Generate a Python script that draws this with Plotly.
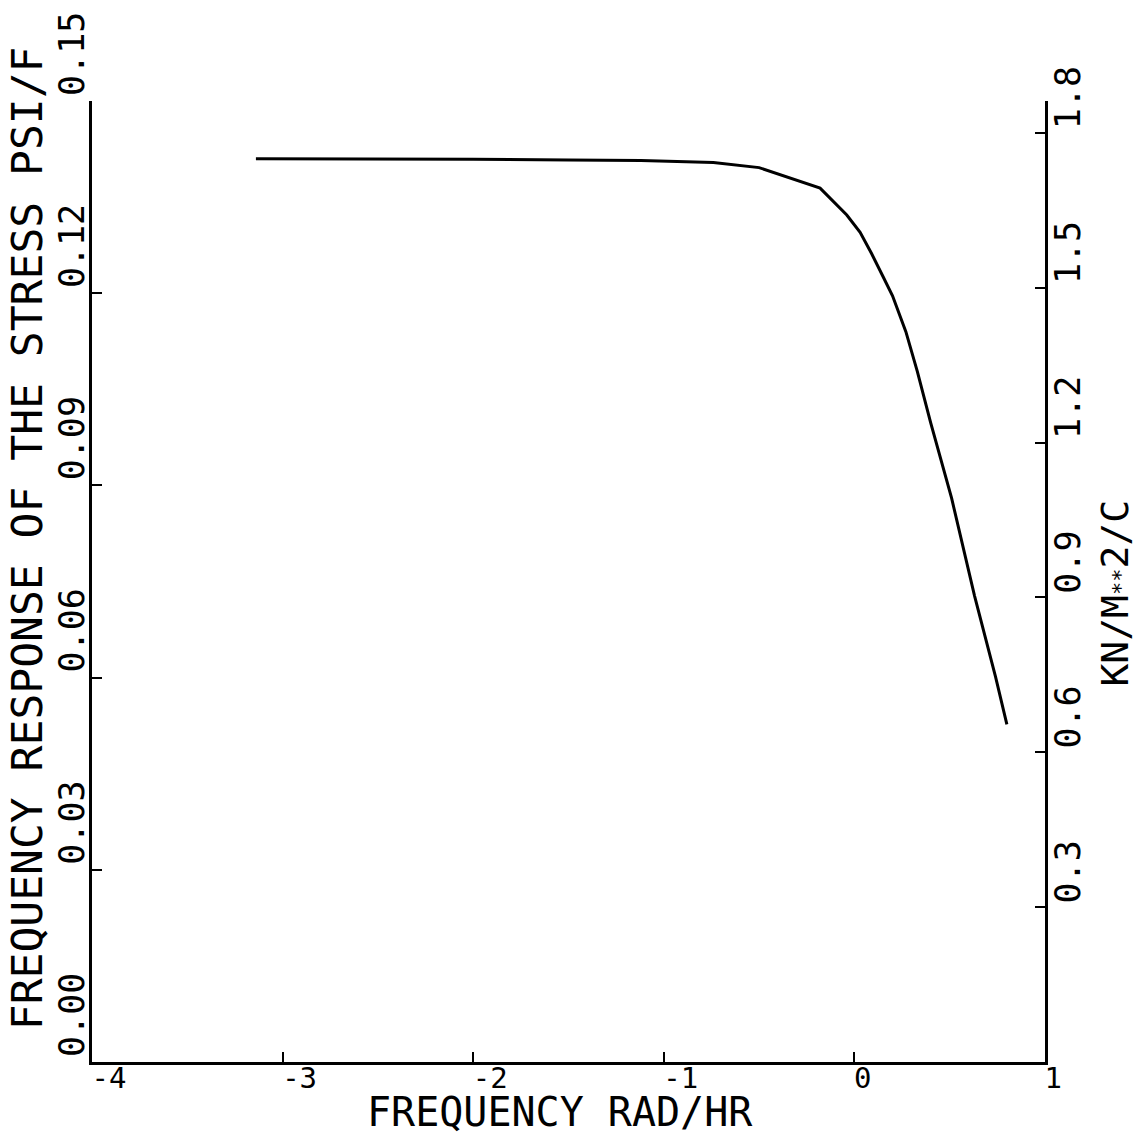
import plotly.graph_objects as go

# Data (x: log10 frequency, y: stress response PSI/F)
freq = [-3.14, -2.5, -2.0, -1.5, -1.12, -0.74, -0.50, -0.18, -0.04, 0.03, 0.09, 0.15, 0.20, 0.27, 0.33, 0.40, 0.51, 0.63, 0.74, 0.80]
resp = [0.1410, 0.1410, 0.1409, 0.1408, 0.1407, 0.1404, 0.1396, 0.1364, 0.1322, 0.1295, 0.1262, 0.1226, 0.1196, 0.1140, 0.1078, 0.0998, 0.0880, 0.0728, 0.0602, 0.0527]

x_ticks = [-4, -3, -2, -1, 0, 1]
x_ticktext = ["-4", "-3", "-2", "-1", "0\u00a0", "1\u00a0"]
y_ticks = [0.00, 0.03, 0.06, 0.09, 0.12, 0.15]
y_ticktext = ["0.00", "0.03", "0.06", "0.09", "0.12", "0.15"]
y2_ticks = [0.3, 0.6, 0.9, 1.2, 1.5, 1.8]
y2_ticktext = ["0.3", "0.6", "0.9", "1.2", "1.5", "1.8"]

PSIF_TO_KNM2C = 6.894757 * 1.8

FONT = "DejaVu Sans Mono"

fig = go.Figure()
fig.add_trace(go.Scatter(x=freq, y=resp, mode="lines",
                         line=dict(color="black", width=3), showlegend=False,
                         hoverinfo="skip"))
fig.add_trace(go.Scatter(x=freq, y=[v * PSIF_TO_KNM2C for v in resp], mode="lines",
                         yaxis="y2", opacity=0, line=dict(color="black", width=1),
                         showlegend=False, hoverinfo="skip"))

fig.update_layout(
    width=1139, height=1135,
    margin=dict(l=92, r=94, t=95, b=73),
    paper_bgcolor="white", plot_bgcolor="white",
    font=dict(family=FONT, color="black"),
    xaxis=dict(range=[-4, 1], tickvals=x_ticks, ticktext=x_ticktext,
               showgrid=False, zeroline=False, showline=True, linecolor="black", linewidth=3,
               ticks="inside", ticklen=10, tickwidth=2, tickcolor="black",
               tickfont=dict(family=FONT, size=29), ticklabelshift=17, ticklabelstandoff=-12),
    yaxis=dict(range=[0, 0.15], tickvals=y_ticks, ticktext=y_ticktext,
               showgrid=False, zeroline=False, showline=True, linecolor="black", linewidth=3,
               ticks="inside", ticklen=10, tickwidth=2, tickcolor="black",
               tickangle=-90, tickfont=dict(family=FONT, size=35),
               ticklabelshift=-42, ticklabelstandoff=-9),
    yaxis2=dict(range=[0, 0.15 * PSIF_TO_KNM2C], tickvals=y2_ticks, ticktext=y2_ticktext,
                overlaying="y", side="right", anchor="x",
                showgrid=False, zeroline=False, showline=True, linecolor="black", linewidth=3,
                ticks="inside", ticklen=10, tickwidth=2, tickcolor="black",
                tickangle=-90, tickfont=dict(family=FONT, size=35),
                ticklabelshift=-30, ticklabelstandoff=-10),
    annotations=[
        dict(text="FREQUENCY RESPONSE OF THE STRESS PSI/F", xref="paper", yref="paper",
             x=-0.0682, y=0.545, xanchor="center", yanchor="middle", textangle=-90,
             showarrow=False, font=dict(family=FONT, size=43)),
        dict(text="FREQUENCY RAD/HR", xref="paper", yref="paper",
             x=0.491, y=-0.052, xanchor="center", yanchor="middle",
             showarrow=False, font=dict(family=FONT, size=40)),
        dict(text="KN/M<span style='font-size:22px'>**</span>2/C", xref="paper", yref="paper",
             x=1.074, y=0.488, xanchor="center", yanchor="middle", textangle=-90,
             showarrow=False, font=dict(family=FONT, size=38)),
    ],
)

fig.write_html("out.html")
